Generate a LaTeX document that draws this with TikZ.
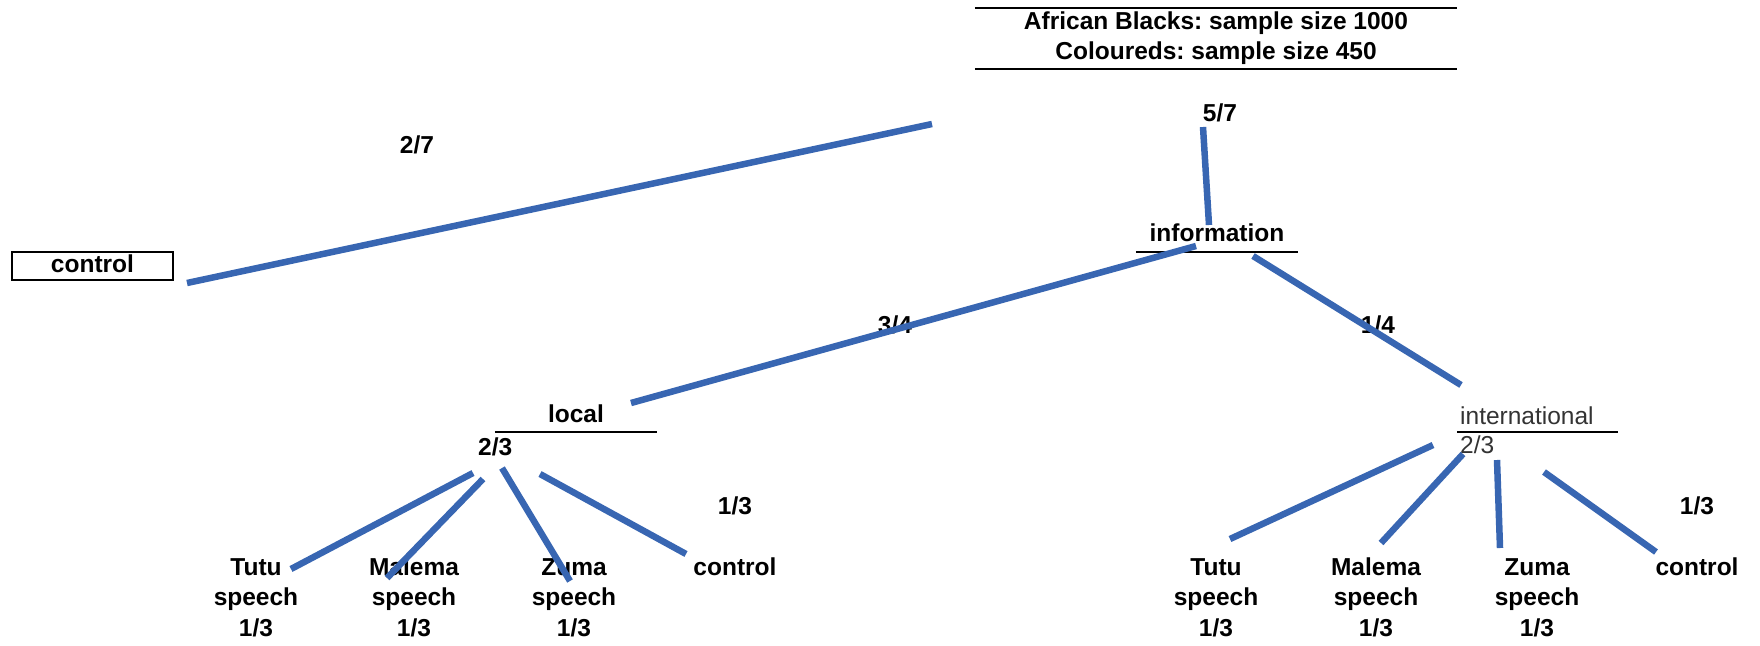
\documentclass[tikz,border=0pt]{standalone}
\usepackage{fontspec}
\setmainfont{Liberation Sans}
\usetikzlibrary{positioning}
\definecolor{branchblue}{RGB}{56,102,178}
\newcommand{\lblfont}{\fontsize{24.5}{30.5}\selectfont}
\frenchspacing

\begin{document}
\begin{tikzpicture}[x=1pt, y=-1pt,
    lbl/.style={font=\lblfont\bfseries, inner sep=0pt},
    plain/.style={font=\lblfont, text=black!80, inner sep=0pt},
    leaf/.style={lbl, align=center, anchor=base},
    branch/.style={branchblue, line width=6.5pt},
    rule/.style={black, line width=2pt}]
    \useasboundingbox (0,0) rectangle (1760,645);

    % header
    \node[lbl, align=center, font=\fontsize{24.5}{30}\selectfont\bfseries,
          minimum width=482pt, minimum height=61pt] (head) at (1216,38.5)
          {African Blacks: sample size 1000\\Coloureds: sample size 450};
    \draw[rule] (head.north west) -- (head.north east);
    \draw[rule] (head.south west) -- (head.south east);

    % first split
    \node[lbl] (p57) at (1220,113) {5/7};
    \node[lbl] (p27) at (417,145) {2/7};
    \node[lbl, draw, line width=1.5pt, minimum width=161pt, minimum height=28pt,
          text height=18pt, text depth=6pt] (ctlA) at (92.5,266) {control};
    \node[lbl, anchor=south, minimum width=162pt, inner ysep=10pt, text depth=0pt]
          (info) at (1217,252) {information};
    \draw[rule] (info.south west) -- (info.south east);

    \coordinate (topL) at (932,124);
    \coordinate (ctlAend) at (187,283);
    \coordinate (top57) at (1203,127);
    \coordinate (infoN) at (1209,225);
    \draw[branch] (topL) -- (ctlAend);
    \draw[branch] (top57) -- (infoN);

    % second split
    \node[lbl] (p34) at (895,325) {3/4};
    \node[lbl] (p14) at (1378,325) {1/4};
    \node[lbl, anchor=south, minimum width=162pt, inner ysep=9pt, text depth=0pt]
          (local) at (576,432) {local};
    \draw[rule] (local.south west) -- (local.south east);
    \node[lbl, anchor=base west] (f23a) at (478,455) {2/3};
    \node[plain, anchor=south west, text width=155pt, inner xsep=3pt, inner ysep=7pt,
          align=left, text depth=0pt] (intl) at (1457,432) {international};
    \draw[rule] (intl.south west) -- (intl.south east);
    \node[plain, anchor=base west] (f23b) at (1460,453) {2/3};

    \coordinate (infoL) at (1196,246);
    \coordinate (localN) at (631,403);
    \coordinate (infoR) at (1253,256);
    \coordinate (intlN) at (1461,385);
    \draw[branch] (infoL) -- (localN);
    \draw[branch] (infoR) -- (intlN);

    % local leaves (base = last line)
    \node[lbl] (p13a) at (735,506) {1/3};
    \node[leaf] (tutuA) at (256,636) {Tutu\\speech\\1/3};
    \node[leaf] (malemaA) at (414,636) {Malema\\speech\\1/3};
    \node[leaf] (zumaA) at (574,636) {Zuma\\speech\\1/3};
    \node[leaf] (ctlB) at (735,575) {control};

    \coordinate (la1) at (473,473);  \coordinate (la2) at (291,569);
    \coordinate (lb1) at (483,479);  \coordinate (lb2) at (387,578);
    \coordinate (lc1) at (502,468);  \coordinate (lc2) at (570,581);
    \coordinate (ld1) at (540,474);  \coordinate (ld2) at (686,554);
    \foreach \s/\e in {la1/la2, lb1/lb2, lc1/lc2, ld1/ld2}
        \draw[branch] (\s) -- (\e);

    % international leaves
    \node[lbl] (p13b) at (1697,506) {1/3};
    \node[leaf] (tutuB) at (1216,636) {Tutu\\speech\\1/3};
    \node[leaf] (malemaB) at (1376,636) {Malema\\speech\\1/3};
    \node[leaf] (zumaB) at (1537,636) {Zuma\\speech\\1/3};
    \node[leaf] (ctlC) at (1697,575) {control};

    \coordinate (ia1) at (1433,445);  \coordinate (ia2) at (1230,539);
    \coordinate (ib1) at (1463,454);  \coordinate (ib2) at (1381,543);
    \coordinate (ic1) at (1497,460);  \coordinate (ic2) at (1500,548);
    \coordinate (id1) at (1544,472);  \coordinate (id2) at (1656,552);
    \foreach \s/\e in {ia1/ia2, ib1/ib2, ic1/ic2, id1/id2}
        \draw[branch] (\s) -- (\e);
\end{tikzpicture}
\end{document}
